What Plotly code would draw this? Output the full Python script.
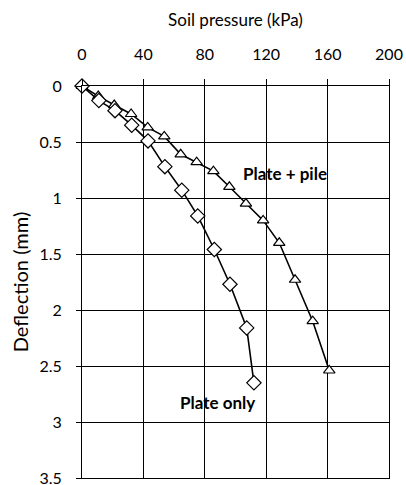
import plotly.graph_objects as go

plate_only_x = [0, 11, 21.5, 32.4, 43, 54, 65, 75.4, 86.2, 96.4, 107.3, 112]
plate_only_y = [0, 0.13, 0.22, 0.35, 0.49, 0.72, 0.93, 1.16, 1.46, 1.77, 2.16, 2.65]

plate_pile_x = [0, 10.6, 21, 32, 42.8, 53.6, 64.3, 74.7, 85.6, 96, 106.8, 118, 128.5, 138.8, 150.3, 161.1]
plate_pile_y = [0, 0.09, 0.17, 0.25, 0.37, 0.45, 0.61, 0.68, 0.76, 0.90, 1.05, 1.20, 1.40, 1.73, 2.10, 2.54]

x_ticks = [0, 40, 80, 120, 160, 200]
y_ticks = [0, 0.5, 1, 1.5, 2, 2.5, 3, 3.5]
y_tick_text = ["0", "0.5", "1", "1.5", "2", "2.5", "3", "3.5"]

font_family = "Lato, 'Open Sans', sans-serif"

fig = go.Figure()
fig.add_trace(go.Scatter(
    x=plate_pile_x, y=plate_pile_y, mode="lines+markers", name="Plate + pile",
    line=dict(color="black", width=1.6), cliponaxis=False,
    marker=dict(symbol="triangle-up", size=10, color="white",
                line=dict(color="black", width=1.2)),
))
fig.add_trace(go.Scatter(
    x=plate_only_x, y=plate_only_y, mode="lines+markers", name="Plate only",
    line=dict(color="black", width=1.6), cliponaxis=False,
    marker=dict(symbol="diamond", size=11, color="white",
                line=dict(color="black", width=1.2)),
))

fig.add_annotation(x=132, y=0.78, text="<b>Plate + pile</b>", showarrow=False,
                   font=dict(family=font_family, size=17, color="black"))
fig.add_annotation(x=88.5, y=2.83, text="<b>Plate only</b>", showarrow=False,
                   font=dict(family=font_family, size=17, color="black"))

fig.update_layout(
    width=406, height=485,
    margin=dict(l=82, r=17, t=86, b=7, autoexpand=False),
    paper_bgcolor="white", plot_bgcolor="white",
    showlegend=False,
    font=dict(family=font_family, size=16, color="black"),
    xaxis=dict(
        side="top", range=[0, 200], tickvals=x_ticks,
        showgrid=True, gridcolor="black", gridwidth=1,
        showline=True, linecolor="black", linewidth=1, mirror=True,
        ticks="outside", ticklen=6, tickcolor="black",
        ticklabelstandoff=13, automargin=False,
        zeroline=False,
        title=dict(text="Soil pressure (kPa)", font=dict(size=17), standoff=12),
    ),
    yaxis=dict(
        range=[3.5, 0], tickvals=y_ticks, ticktext=y_tick_text,
        showgrid=True, gridcolor="black", gridwidth=1,
        showline=True, linecolor="black", linewidth=1, mirror=True,
        ticks="outside", ticklen=5, tickcolor="black",
        ticklabelstandoff=11, automargin=False, ticklabeloverflow="allow",
        zeroline=False,
        title=dict(text="Deflection (mm)", font=dict(size=20), standoff=5),
    ),
)

fig.write_html("out.html")
